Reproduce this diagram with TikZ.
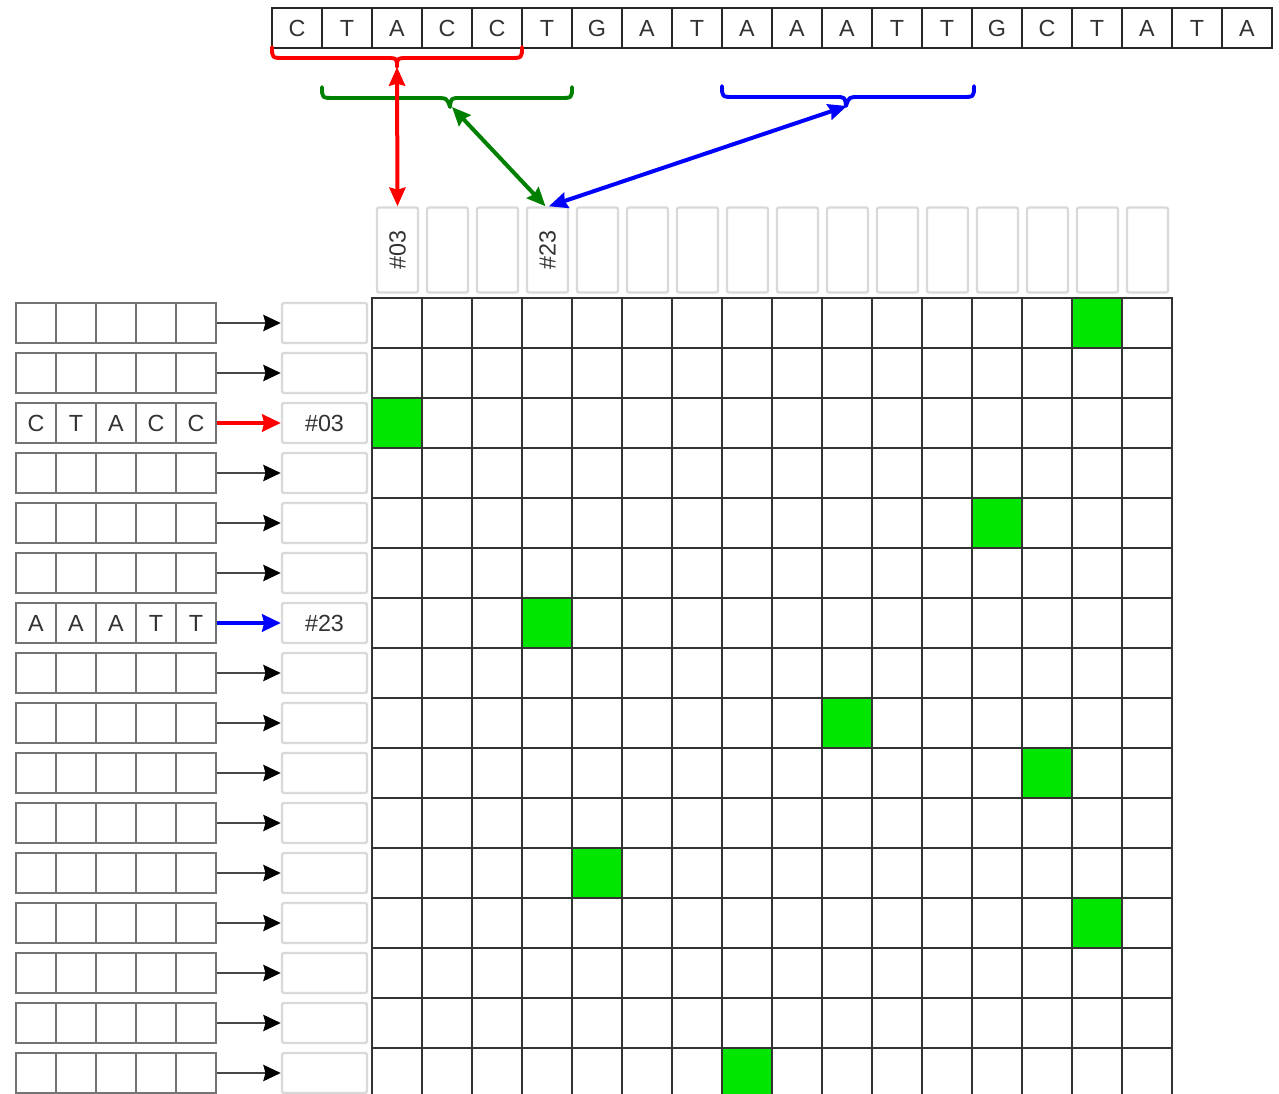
\documentclass[tikz,border=0pt]{standalone}
\usepackage{fontspec}
\setmainfont{Liberation Sans}
\usetikzlibrary{arrows.meta}
\definecolor{hitgreen}{RGB}{0,230,0}
\definecolor{dkgreen}{RGB}{0,128,0}
\definecolor{pureblue}{RGB}{0,0,255}
\definecolor{purered}{RGB}{255,0,0}
\begin{document}
\begin{tikzpicture}[x=0.75pt,y=-0.75pt,
  lbl/.style={font=\fontsize{17.5}{19}\selectfont, text=black!80},
  seqcell/.style={lbl, draw=black!85, line width=1.2pt, minimum width=37.5pt, minimum height=30pt, inner sep=0pt},
  gridcell/.style={draw=black!80, line width=1.2pt, minimum size=37.5pt, inner sep=0pt},
  hit/.style={gridcell, fill=hitgreen},
  kcell/.style={lbl, draw=black!55, line width=2.1pt, minimum size=30pt, inner sep=0pt},
  idbox/.style={lbl, draw=black!15, line width=1.8pt, rounded corners=1.5pt, minimum width=63.75pt, minimum height=30pt, inner sep=0pt},
  colbox/.style={lbl, draw=black!15, line width=1.8pt, rounded corners=1.5pt, minimum width=30.75pt, minimum height=63.75pt, inner sep=0pt},
  link/.style={line width=2.2pt, draw=black!72, -{Stealth[length=13pt,width=12pt,inset=1.5pt,color=black]}},
  clink/.style={line width=3pt, -{Stealth[length=14pt,width=13pt,inset=1.5pt]}},
  brc/.style={line width=2.9pt, line cap=round, line join=round},
  dlink/.style={line width=3pt, {Stealth[length=14pt,width=12pt,inset=1.5pt]}-{Stealth[length=14pt,width=12pt,inset=1.5pt]}}
]
\useasboundingbox (0,0) rectangle (1279,1094);
\clip (0,0) rectangle (1279,1094);

% top sequence
\foreach \l [count=\i from 0] in {C,T,A,C,C,T,G,A,T,A,A,A,T,T,G,C,T,A,T,A}
  \node[seqcell] (s\i) at (297+50*\i,28) {\l};

% braces
\draw[brc, purered] (272,47) .. controls (272,58) .. (284,58) -- (385,58) .. controls (397,58) .. (397,67) .. controls (397,58) .. (409,58) -- (510,58) .. controls (522,58) .. (522,47);
\draw[brc, dkgreen] (322,87) .. controls (322,98) .. (334,98) -- (435,98) .. controls (447,98) .. (450,107) .. controls (451,98) .. (461,98) -- (560,98) .. controls (572,98) .. (572,87);
\draw[brc, pureblue] (722,86) .. controls (722,97) .. (734,97) -- (835,97) .. controls (845,97) .. (846,106) .. controls (849,97) .. (859,97) -- (962,97) .. controls (974,97) .. (974,86);
\coordinate (rtip) at (397,67);
\coordinate (gtip) at (452,107);
\coordinate (btip) at (847,106);

% column header boxes
\foreach \i in {0,...,15}
  \node[colbox] (c\i) at (397.5+50*\i,250) {};
\node[lbl, rotate=90] at (c0) {\#03};
\node[lbl, rotate=90] at (c3) {\#23};

% arrows from braces
\draw[dlink, purered] (rtip) -- (c0.north);
\draw[dlink, dkgreen] (gtip) -- ([xshift=-1.5pt]c3.north);
\draw[dlink, pureblue] (btip) -- ([xshift=1pt]c3.north);

% grid
\foreach \r in {0,...,15}
  \foreach \c in {0,...,15}
    \node[gridcell] (g-\r-\c) at (397+50*\c,323+50*\r) {};
\foreach \r/\c in {0/14,2/0,4/12,6/3,8/9,9/13,11/4,12/14,15/7}
  \node[hit] (h-\r-\c) at (397+50*\c,323+50*\r) {};

% left k-mer rows
\foreach \r in {0,...,15}{
  \foreach \j in {0,...,4}
    \node[kcell] (k-\r-\j) at (36+40*\j,323+50*\r) {};
  \node[idbox] (id\r) at (324.5,323+50*\r) {};
}
\foreach \r in {0,1,3,4,5,7,8,9,10,11,12,13,14,15}
  \draw[link] (k-\r-4.east) -- (id\r.west);

\foreach \l [count=\j from 0] in {C,T,A,C,C}
  \node[lbl] at (k-2-\j) {\l};
\foreach \l [count=\j from 0] in {A,A,A,T,T}
  \node[lbl] at (k-6-\j) {\l};
\node[lbl] at (id2) {\#03};
\node[lbl] at (id6) {\#23};
\draw[clink, purered] (k-2-4.east) -- (id2.west);
\draw[clink, pureblue] (k-6-4.east) -- (id6.west);
\end{tikzpicture}
\end{document}
